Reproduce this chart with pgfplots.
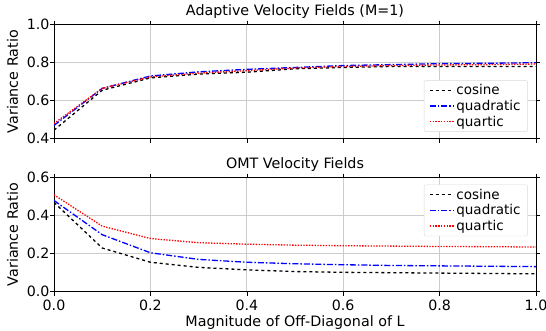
\documentclass[border=0pt]{standalone}
\usepackage{pgfplots}
\pgfplotsset{compat=1.18}
\usepackage{fontspec}
\setmainfont{DejaVu Sans}
\begin{document}
\begin{tikzpicture}
\pgfplotsset{
  common/.style={
    scale only axis, width=482pt, height=114pt,
    xmin=0, xmax=1,
    grid=major, grid style={gray!40, line width=0.8pt},
    tick style={black, line width=0.6pt},
    tick align=outside,
    major tick length=4pt,
    axis line style={line width=0.8pt},
    xtick={0,0.2,0.4,0.6,0.8,1.0},
    /pgf/number format/assume math mode=true,
    /pgf/number format/fixed, /pgf/number format/fixed zerofill, /pgf/number format/precision=1,
    tick label style={font=\fontsize{14.2}{16}\selectfont},
    xticklabel style={yshift=-1pt},
    yticklabel style={xshift=3pt},
    label style={font=\fontsize{14.3}{15}\selectfont},
    title style={font=\fontsize{14.3}{15}\selectfont, yshift=-3pt},
    ylabel={Variance Ratio},
    ylabel style={yshift=2pt},
    legend style={font=\fontsize{13.5}{17}\selectfont, draw=gray!30, rounded corners=2pt, inner xsep=5pt, inner ysep=2pt},
    legend cell align=left,
  },
  cos/.style={black, dashed, line width=1.3pt},
  quad/.style={blue, dash pattern=on 6pt off 2pt on 1.5pt off 2pt, line width=1.3pt},
  quart/.style={red, dash pattern=on 1.4pt off 1.4pt, line width=1.3pt},
}
\begin{axis}[common, at={(0pt,153pt)}, anchor=south west,
  ymin=0.4, ymax=1.0, ytick={0.4,0.6,0.8,1.0},
  xticklabels={},
  title={Adaptive Velocity Fields (M=1)},
  legend style={at={(0.983,0.06)}, anchor=south east}]
\addplot[cos, forget plot] coordinates {(0,0.445) (0.1,0.655) (0.2,0.72) (0.3,0.74) (0.4,0.75) (0.5,0.768) (0.6,0.775) (0.7,0.78) (0.8,0.78) (0.9,0.78) (1.0,0.78)};
\addplot[quad, forget plot] coordinates {(0,0.47) (0.1,0.665) (0.2,0.73) (0.3,0.752) (0.4,0.765) (0.5,0.775) (0.6,0.785) (0.7,0.79) (0.8,0.795) (0.9,0.797) (1.0,0.80)};
\addplot[quart, forget plot] coordinates {(0,0.48) (0.1,0.665) (0.2,0.725) (0.3,0.745) (0.4,0.758) (0.5,0.772) (0.6,0.78) (0.7,0.785) (0.8,0.788) (0.9,0.79) (1.0,0.793)};
\addlegendimage{legend image code/.code={\draw[black, dashed, line width=1.3pt] (0pt,0pt) -- (24pt,0pt);}}
\addlegendentry{cosine}
\addlegendimage{legend image code/.code={\draw[blue, dash pattern=on 6pt off 2pt on 1.5pt off 2pt, line width=1.3pt] (0pt,0pt) -- (24pt,0pt);}}
\addlegendentry{quadratic}
\addlegendimage{legend image code/.code={\draw[red, dash pattern=on 1.4pt off 1.4pt, line width=1.3pt] (0pt,0pt) -- (24pt,0pt);}}
\addlegendentry{quartic}
\end{axis}
\begin{axis}[common, at={(0pt,0pt)}, anchor=south west,
  ymin=0, ymax=0.6, ytick={0,0.2,0.4,0.6},
  title={OMT Velocity Fields},
  xlabel={Magnitude of Off-Diagonal of L},
  xlabel style={yshift=2pt},
  legend style={at={(0.983,0.94)}, anchor=north east}]
\addplot[cos, forget plot] coordinates {(0,0.47) (0.1,0.23) (0.2,0.155) (0.3,0.128) (0.4,0.115) (0.5,0.106) (0.6,0.102) (0.7,0.100) (0.8,0.098) (0.9,0.096) (1.0,0.094)};
\addplot[quad, forget plot] coordinates {(0,0.48) (0.1,0.30) (0.2,0.205) (0.3,0.17) (0.4,0.155) (0.5,0.147) (0.6,0.142) (0.7,0.138) (0.8,0.136) (0.9,0.134) (1.0,0.132)};
\addplot[quart, forget plot] coordinates {(0,0.51) (0.1,0.345) (0.2,0.28) (0.3,0.258) (0.4,0.25) (0.5,0.245) (0.6,0.242) (0.7,0.24) (0.8,0.238) (0.9,0.237) (1.0,0.235)};
\addlegendimage{legend image code/.code={\draw[black, dashed, line width=1.3pt] (0pt,0pt) -- (24pt,0pt);}}
\addlegendentry{cosine}
\addlegendimage{legend image code/.code={\draw[blue, dash pattern=on 6pt off 2pt on 1.5pt off 2pt, line width=1.3pt] (0pt,0pt) -- (24pt,0pt);}}
\addlegendentry{quadratic}
\addlegendimage{legend image code/.code={\draw[red, dash pattern=on 1.4pt off 1.4pt, line width=1.3pt] (0pt,0pt) -- (24pt,0pt);}}
\addlegendentry{quartic}
\end{axis}
\pgfresetboundingbox
\path (-54pt,-38.3pt) rectangle (492pt,291.7pt);
\end{tikzpicture}
\end{document}
